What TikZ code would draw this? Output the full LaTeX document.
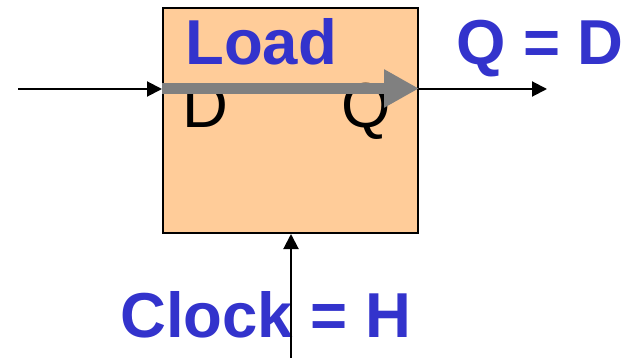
\documentclass[tikz,border=0pt]{standalone}
\usepackage{fontspec}
\setmainfont{Liberation Sans}
\usetikzlibrary{arrows.meta}
\definecolor{peach}{HTML}{FFCC99}
\definecolor{lblue}{HTML}{3333CC}
\definecolor{garrow}{HTML}{808080}
\begin{document}
\begin{tikzpicture}[x=1pt,y=-1pt,
  bluelbl/.style={inner sep=0pt,anchor=base west,text=lblue,font=\fontsize{63.5}{70}\selectfont\bfseries},
  pinlbl/.style={inner sep=0pt,anchor=base west,font=\fontsize{63.5}{70}\selectfont},
  wire/.style={line width=2pt,-{Triangle[length=15pt,width=15pt]}}]
\useasboundingbox (0,0) rectangle (626,358);
\node[draw,line width=2pt,fill=peach,minimum width=255pt,minimum height=225pt,inner sep=0pt] (box) at (290.5,120.5) {};
\node[pinlbl] (d) at (182,128) {D};
\node[pinlbl] (q) at (341,128) {Q};
\coordinate (ga) at (163,88.5);
\coordinate (gb) at (418,88.5);
\draw[line width=11pt,garrow,-{Triangle[length=35pt,width=36pt]}] (ga -| box.west) -- (gb -| box.east);
\node[bluelbl] (load) at (185,65) {Load};
\node[bluelbl] (qd) at (456,65) {Q = D};
\node[bluelbl] (clock) at (120,337) {Clock = H};
\coordinate (in) at (18,89);
\coordinate (out) at (547,89);
\coordinate (clk) at (291,358);
\draw[wire] (in) -- (in -| box.west);
\draw[wire] (out -| box.east) -- (out);
\draw[wire] (clk) -- (clk |- box.south);
\end{tikzpicture}
\end{document}
